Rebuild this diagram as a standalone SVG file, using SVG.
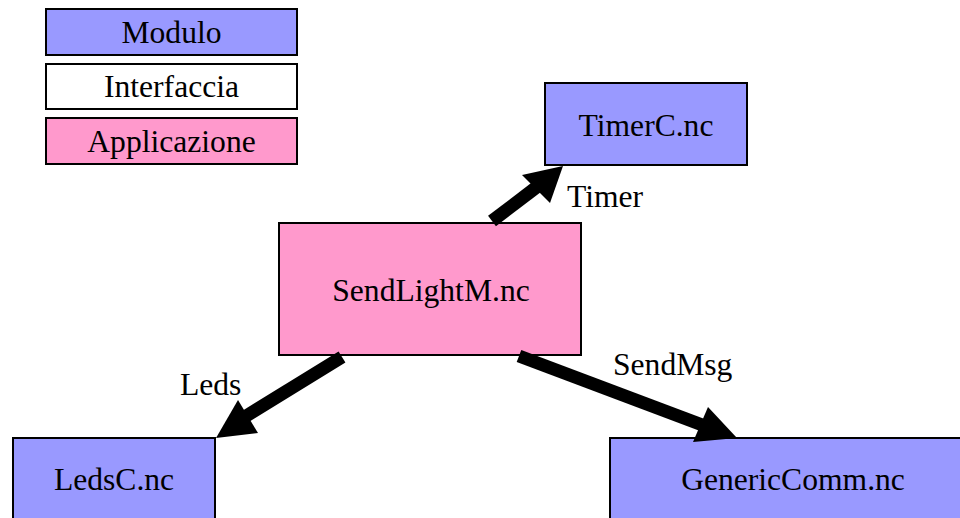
<svg xmlns="http://www.w3.org/2000/svg" width="960" height="518" viewBox="0 0 960 518">
<style>
.box{stroke:#000;stroke-width:2}
.mod{fill:#9999ff}
.app{fill:#ff99cc}
.intf{fill:#fff}
text{font-family:"Liberation Serif","Times New Roman","DejaVu Serif",serif;font-size:31.6px;fill:#000}
.c{text-anchor:middle}
.shaft{stroke:#000;stroke-width:13;fill:none}
.head{fill:#000}
</style>
<rect width="960" height="518" fill="#fff"/>
<g id="legend-modulo"><rect class="box mod" x="46" y="9" width="251" height="46"/><text class="c" x="171.5" y="43">Modulo</text></g>
<g id="legend-interfaccia"><rect class="box intf" x="46" y="64" width="251" height="45"/><text class="c" x="171.5" y="97">Interfaccia</text></g>
<g id="legend-applicazione"><rect class="box app" x="46" y="118" width="251" height="46"/><text class="c" x="171.5" y="152">Applicazione</text></g>
<g id="timerc"><rect class="box mod" x="545" y="83" width="202" height="82"/><text class="c" x="646" y="136">TimerC.nc</text></g>
<g id="sendlightm"><rect class="box app" x="279" y="223" width="302" height="132"/><text class="c" x="431" y="301">SendLightM.nc</text></g>
<g id="ledsc"><rect class="box mod" x="13" y="438" width="202" height="90"/><text class="c" x="114" y="490">LedsC.nc</text></g>
<g id="genericcomm"><rect class="box mod" x="610" y="438" width="360" height="90"/><text class="c" x="793" y="490">GenericComm.nc</text></g>
<g id="connectors">
<line class="shaft" x1="492" y1="221" x2="538" y2="186"/>
<polygon class="head" points="563,166 522,175 550,203"/>
<text x="567" y="207">Timer</text>
<line class="shaft" x1="342" y1="357" x2="243" y2="418"/>
<polygon class="head" points="216,438 238,400 258,433"/>
<text x="180" y="395">Leds</text>
<line class="shaft" x1="519" y1="356" x2="705" y2="426"/>
<polygon class="head" points="737,438 708,407 693,442"/>
<text x="613" y="375">SendMsg</text>
</g>
</svg>
